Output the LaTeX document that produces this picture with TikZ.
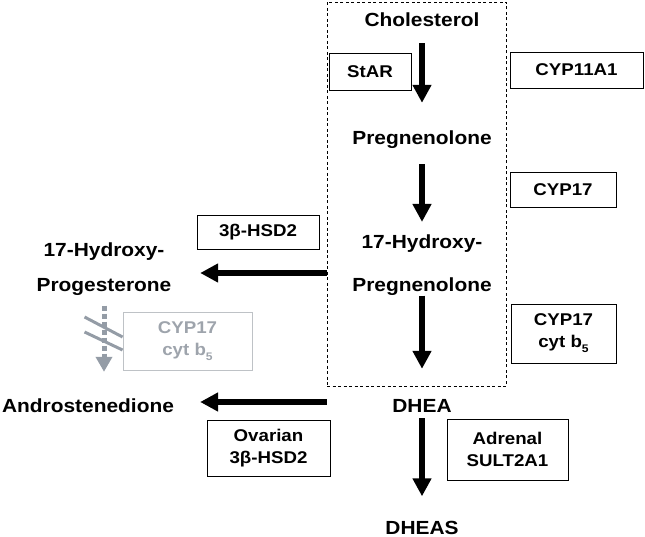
\documentclass[tikz,border=0pt]{standalone}
\usepackage{fontspec}
\setmainfont[FakeStretch=1.1]{Liberation Sans}
\usepackage{tikz}
\usetikzlibrary{arrows.meta}
\usetikzlibrary{calc}
\definecolor{fadedtxt}{RGB}{158,164,172}
\definecolor{fadedbox}{RGB}{190,194,198}
\definecolor{fadedarr}{RGB}{148,156,166}
\tikzset{met/.style={inner sep=0pt,text height=14pt,text depth=4pt,font=\bfseries\fontsize{19}{43}\selectfont},
metpair/.style={inner sep=0pt,align=center,font=\bfseries\fontsize{19}{#1}\selectfont},
enz/.style={draw,line width=0.9pt,inner sep=0pt,align=center,font=\bfseries\fontsize{17}{22}\selectfont},
flow/.style={line width=6pt,-{Triangle[length=18pt,width=18pt]}}}
\newcommand{\subfive}{\raisebox{-5pt}{\fontsize{11}{11}\selectfont 5}}

\begin{document}
\begin{tikzpicture}[x=1pt,y=-1pt]
\useasboundingbox (0,0) rectangle (645,537);

\node (bx) at (416.5,194) [draw,dash pattern=on 3pt off 2.5pt,line width=0.9pt,minimum width=179pt,minimum height=384pt,inner sep=0pt] {};

% main pathway
\node (chol) at (422,22) [met] {Cholesterol};
\node (preg) at (422,140) [met] {Pregnenolone};
\node (ohpreg) at (422,265) [metpair=43] {17-Hydroxy-\\Pregnenolone};
\node (dhea) at (422,407) [met] {DHEA};
\node (dheas) at (422,529) [met] {DHEAS};
\node (ohprog) at (104,269) [metpair=35] {17-Hydroxy-\\Progesterone};
\node (andro) at (88,407) [met] {Androstenedione};

% enzymes
\node (star) at (370,71.5) [enz,minimum width=82pt,minimum height=37pt] {StAR};
\node (cypa) at (576.5,70) [enz,minimum width=133pt,minimum height=36pt] {CYP11A1};
\node (cypb) at (563,189.5) [enz,minimum width=106pt,minimum height=35pt] {CYP17};
\node (cypc) at (563.5,333.5) [enz,minimum width=105pt,minimum height=59pt] {CYP17\\cyt b\subfive};
\node (sult) at (507.5,449.5) [enz,minimum width=121pt,minimum height=61pt] {Adrenal\\SULT2A1};
\node (hsda) at (258,232) [enz,minimum width=122pt,minimum height=34pt] {3β-HSD2};
\node (hsdb) at (268.5,448) [enz,minimum width=123pt,minimum height=56pt] {Ovarian\\3β-HSD2};
\node (cypd) at (187.5,341) [enz,draw=fadedbox,text=fadedtxt,minimum width=129pt,minimum height=58pt] {CYP17\\cyt b\subfive};

\foreach \a/\b/\s/\e in {chol/preg/12/28, preg/ohpreg/15/12.5, ohpreg/dhea/0/29, dhea/dheas/2/23.5} {
\draw[flow,shorten <=\s pt,shorten >=\e pt] (\a.south) -- (\b.north);
}

\draw[flow] ($(ohpreg.west)+(-25.3,8)$) -- ($(ohprog.east)+(28.6,4)$);
\draw[flow] ($(dhea.west)+(-65.4,-5)$) -- ($(andro.east)+(26,-5)$);

% blocked step
\draw[fadedarr,line width=5pt,dash pattern=on 5pt off 3pt,-{Triangle[length=15pt,width=16pt]},shorten <=10pt,shorten >=26pt] (ohprog.south) -- (ohprog.south |- andro.north);
\draw[fadedarr,line width=3pt] ($(cypd.west)+(-38,-24)$) -- ($(cypd.west)+(0,-4)$);
\draw[fadedarr,line width=3pt] ($(cypd.west)+(-38,-9)$) -- ($(cypd.west)+(0,9)$);

\end{tikzpicture}
\end{document}
